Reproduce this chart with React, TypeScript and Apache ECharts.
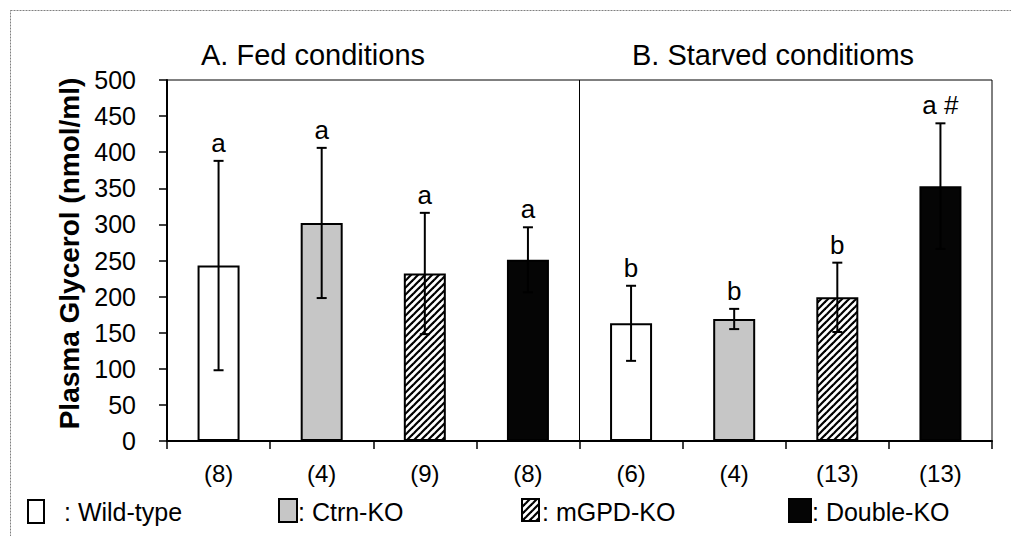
import React, { useEffect, useRef } from "react";
import * as echarts from "echarts";

const categories = ["(8)", "(4)", "(9)", "(8)", "(6)", "(4)", "(13)", "(13)"];
const means = [243, 302, 232, 251, 163, 169, 199, 353];
const errors = [145, 104, 84, 45, 52, 14, 48, 87];
const letters = ["a", "a", "a", "a", "b", "b", "b", "a #"];
const genotypeOf = [0, 1, 2, 3, 0, 1, 2, 3];
const genotypes = ["Wild-type", "Ctrn-KO", "mGPD-KO", "Double-KO"];
const panelTitles = ["A. Fed conditions", "B. Starved conditioms"];
const yTicks = { min: 0, max: 500, interval: 50 };

const FONT = "'Liberation Sans', Arial, sans-serif";

function makeHatch(): string {
  const s = 7;
  const c = document.createElement("canvas");
  c.width = s;
  c.height = s;
  const ctx = c.getContext("2d")!;
  ctx.fillStyle = "#fff";
  ctx.fillRect(0, 0, s, s);
  ctx.strokeStyle = "#000";
  ctx.lineWidth = 2.2;
  for (const k of [0, s, 2 * s]) {
    ctx.beginPath();
    ctx.moveTo(-1, k + 1);
    ctx.lineTo(k + 1, -1);
    ctx.stroke();
  }
  return c.toDataURL();
}

export default function App() {
  const ref = useRef<HTMLDivElement>(null);
  useEffect(() => {
    if (!ref.current) return;
    const chart = echarts.init(ref.current, undefined, { renderer: "svg" });
    const hatch = { image: makeHatch(), repeat: "repeat", imageWidth: 7, imageHeight: 7 } as any;
    const fills: any[] = ["#ffffff", "#c6c6c6", hatch, "#050505"];

    const barData = means.map((v, i) => ({
      value: v,
      itemStyle: { color: fills[genotypeOf[i]], borderColor: "#000", borderWidth: 2 },
    }));
    const errData = means.map((v, i) => [i, v, errors[i]]);

    const legendX = [
      { box: [28, 500, 16, 23], text: 64 },
      { box: [279, 499, 18, 23], text: 298 },
      { box: [522, 499, 17, 22], text: 542 },
      { box: [789, 499, 22, 23], text: 812 },
    ];
    const legendGraphics: any[] = [];
    genotypes.forEach((g, k) => {
      const L = legendX[k];
      legendGraphics.push({
        type: "rect",
        shape: { x: L.box[0], y: L.box[1], width: L.box[2], height: L.box[3] },
        style: { fill: fills[k], stroke: "#000", lineWidth: 2 },
      });
      legendGraphics.push({
        type: "text",
        x: L.text,
        y: 512,
        style: {
          text: ": " + g,
          font: `25px ${FONT}`,
          fill: "#000",
          textVerticalAlign: "middle",
        },
      });
    });

    const titleStyle = { fontFamily: FONT, fontSize: 29, fontWeight: "normal", color: "#000" };

    const option: any = {
      animation: false,
      backgroundColor: "#fff",
      title: [
        { text: panelTitles[0], left: 196, top: 35, textStyle: titleStyle },
        { text: panelTitles[1], left: 627, top: 35, textStyle: titleStyle },
      ],
      grid: { left: 167, right: 19, top: 80, bottom: 95, show: true, borderColor: "#000", borderWidth: 1, backgroundColor: "transparent" },
      xAxis: {
        type: "category",
        data: categories,
        axisLine: { lineStyle: { color: "#000", width: 2 } },
        axisTick: { show: true, length: 8, interval: 0, lineStyle: { color: "#000", width: 1.5 } },
        axisLabel: { interval: 0, margin: 20, color: "#000", fontSize: 24, fontFamily: FONT },
      },
      yAxis: {
        type: "value",
        min: yTicks.min,
        max: yTicks.max,
        interval: yTicks.interval,
        name: "Plasma Glycerol (nmol/ml)",
        nameLocation: "middle",
        nameRotate: 90,
        nameGap: 82,
        nameTextStyle: { fontFamily: FONT, fontSize: 28, fontWeight: "bold", color: "#000", padding: [0, 0, 0, 14] },
        axisLine: { show: true, lineStyle: { color: "#000", width: 2 } },
        axisTick: { show: true, length: 8, lineStyle: { color: "#000", width: 1.5 } },
        axisLabel: { margin: 31, color: "#000", fontSize: 25, fontFamily: FONT },
        splitLine: { show: false },
      },
      graphic: [
        {
          type: "rect",
          shape: { x: 10.5, y: 10.5, width: 1010, height: 540 },
          style: { fill: "none", stroke: "#808080", lineWidth: 1, lineDash: [2, 1] },
          z: 0,
        },
        ...legendGraphics,
      ],
      series: [
        {
          type: "bar",
          data: barData,
          barWidth: 42,
          z: 2,
        },
        {
          type: "custom",
          data: errData,
          encode: { x: 0, y: 1 },
          z: 5,
          renderItem: (params: any, api: any) => {
            const i = api.value(0);
            const m = api.value(1);
            const e = api.value(2);
            const top = api.coord([i, m + e]);
            const bot = api.coord([i, m - e]);
            const x = top[0];
            const cap = 5;
            const st = { stroke: "#000", lineWidth: 2 };
            return {
              type: "group",
              children: [
                { type: "line", shape: { x1: x, y1: top[1], x2: x, y2: bot[1] }, style: st },
                { type: "line", shape: { x1: x - cap, y1: top[1], x2: x + cap, y2: top[1] }, style: st },
                { type: "line", shape: { x1: x - cap, y1: bot[1], x2: x + cap, y2: bot[1] }, style: st },
                {
                  type: "text",
                  x: x,
                  y: top[1] - 5,
                  style: {
                    text: letters[params.dataIndex],
                    font: `26px ${FONT}`,
                    fill: "#000",
                    textAlign: "center",
                    textVerticalAlign: "bottom",
                  },
                },
              ],
            };
          },
        },
        {
          type: "custom",
          data: [[3, 500]],
          encode: { x: 0, y: 1 },
          z: 4,
          renderItem: (params: any, api: any) => {
            const p = api.coord([api.value(0), api.value(1)]);
            const p0 = api.coord([api.value(0), 0]);
            const w = api.size([1, 0])[0];
            const x = p[0] + w / 2;
            return {
              type: "line",
              shape: { x1: x, y1: p[1], x2: x, y2: p0[1] },
              style: { stroke: "#000", lineWidth: 1 },
            };
          },
        },
      ],
    };
    chart.setOption(option);
    return () => chart.dispose();
  }, []);
  return (
    <div
      ref={ref}
      style={{ position: "absolute", left: 0, top: 0, width: 1011, height: 536 }}
    />
  );
}
